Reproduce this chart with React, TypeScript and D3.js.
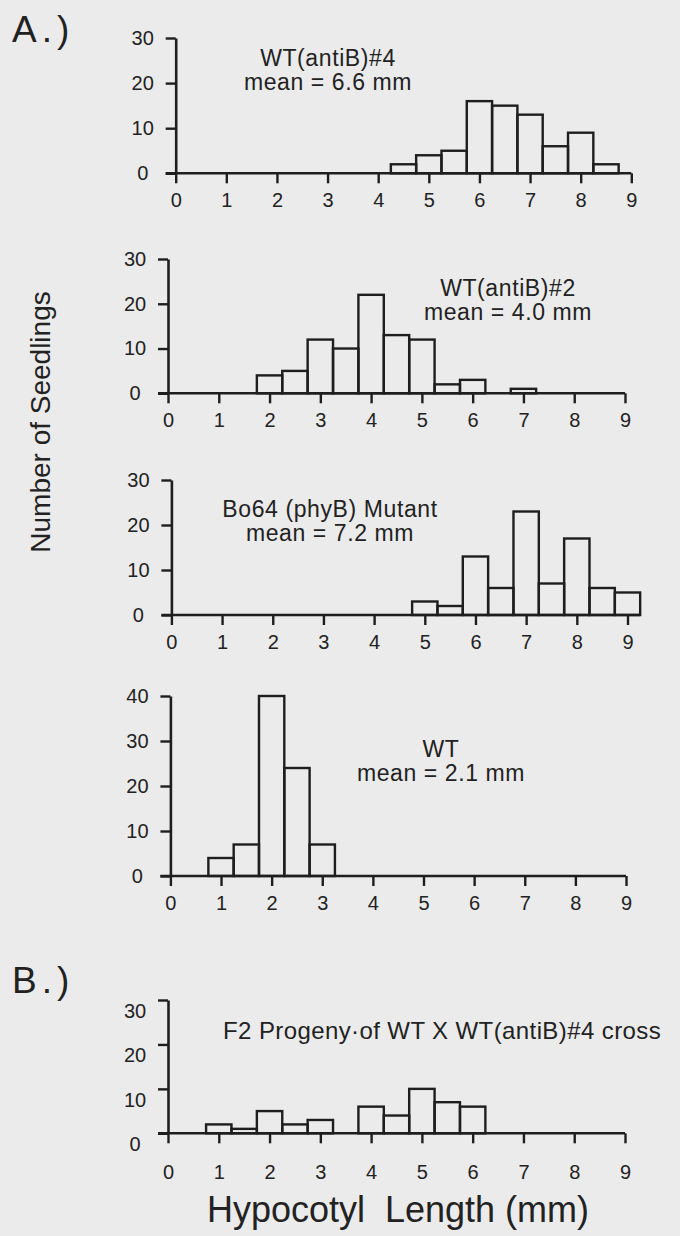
import { useRef, useEffect } from "react";
import { select, scaleLinear, axisBottom, axisLeft } from "d3";

const W = 680;
const H = 1236;
const INK = "#1e1e1e";
const FONT = "'Liberation Sans', Arial, Helvetica, sans-serif";

// bin centres (mm) and counts of seedlings
const wtB4Centers = [4.5, 5, 5.5, 6, 6.5, 7, 7.5, 8, 8.5];
const wtB4Counts = [2, 4, 5, 16, 15, 13, 6, 9, 2];

const wtB2Centers = [2, 2.5, 3, 3.5, 4, 4.5, 5, 5.5, 6, 7];
const wtB2Counts = [4, 5, 12, 10, 22, 13, 12, 2, 3, 1];

const bo64Centers = [5, 5.5, 6, 6.5, 7, 7.5, 8, 8.5, 9];
const bo64Counts = [3, 2, 13, 6, 23, 7, 17, 6, 5];

const wtCenters = [1, 1.5, 2, 2.5, 3];
const wtCounts = [4, 7, 40, 24, 7];

const f2Centers = [1, 1.5, 2, 2.5, 3, 4, 4.5, 5, 5.5, 6];
const f2Counts = [2, 1, 5, 2, 3, 6, 4, 10, 7, 6];

const xTicks = [0, 1, 2, 3, 4, 5, 6, 7, 8, 9];
const yTicks30 = [0, 10, 20, 30];
const yTicks40 = [0, 10, 20, 30, 40];

const titleB4 = ["WT(antiB)#4", "mean = 6.6 mm"];
const titleB2 = ["WT(antiB)#2", "mean = 4.0 mm"];
const titleBo64 = ["Bo64 (phyB) Mutant", "mean = 7.2 mm"];
const titleWT = ["WT", "mean = 2.1 mm"];
const titleF2 = ["F2 Progeny\u00B7of WT X WT(antiB)#4 cross"];

// where each small histogram sits on the page
const panels = [
  { centers: wtB4Centers, counts: wtB4Counts, yTicks: yTicks30, title: titleB4,
    left: 175.7, right: 631.3, base: 173.3, top: 38, xEnd: 9, pad: 10, ydy: 0,
    tx: 328, ty: 66, anchor: "middle", fs: 23, ls: 0.6 },
  { centers: wtB2Centers, counts: wtB2Counts, yTicks: yTicks30, title: titleB2,
    left: 168, right: 625, base: 393.3, top: 259, xEnd: 9, pad: 10, ydy: 0,
    tx: 508, ty: 296, anchor: "middle", fs: 23, ls: 0.6 },
  { centers: bo64Centers, counts: bo64Counts, yTicks: yTicks30, title: titleBo64,
    left: 171.4, right: 627.5, base: 615, top: 480, xEnd: 9.25, pad: 10, ydy: 0,
    tx: 330, ty: 517, anchor: "middle", fs: 23, ls: 0.6 },
  { centers: wtCenters, counts: wtCounts, yTicks: yTicks40, title: titleWT,
    left: 170.4, right: 626, base: 876, top: 696, xEnd: 9, pad: 10, ydy: 0,
    tx: 441, ty: 757, anchor: "middle", fs: 23, ls: 0.6 },
  { centers: f2Centers, counts: f2Counts, yTicks: yTicks30, title: titleF2,
    left: 168, right: 625, base: 1133.3, top: 1000, xEnd: 9, pad: 22, ydy: 11,
    tx: 223, ty: 1039, anchor: "start", fs: 24, ls: 0.4 },
];

function HypocotylFigure() {
  const svgRef = useRef(null);

  useEffect(() => {
    const svg = select(svgRef.current);
    svg.selectAll(".panel").remove();

    panels.forEach((p) => {
      const x = scaleLinear().domain([0, 9]).range([p.left, p.right]);
      const y = scaleLinear().domain([0, p.yTicks[p.yTicks.length - 1]]).range([p.base, p.top]);
      const g = svg.append("g").attr("class", "panel");

      // bars
      g.selectAll(".bar")
        .data(p.centers.map((c, i) => ({ c, n: p.counts[i] })))
        .join("rect")
        .attr("class", "bar")
        .attr("x", (d) => x(d.c - 0.25))
        .attr("width", (d) => x(d.c + 0.25) - x(d.c - 0.25))
        .attr("y", (d) => y(d.n))
        .attr("height", (d) => y(0) - y(d.n))
        .attr("fill", "none")
        .attr("stroke", INK)
        .attr("stroke-width", 2.4);

      // x-axis
      const xa = g.append("g")
        .attr("transform", `translate(0,${p.base})`)
        .call(axisBottom(x).tickValues(xTicks).tickSize(10).tickPadding(p.pad).tickFormat((d) => `${d}`));
      xa.select(".domain").remove();
      xa.append("line")
        .attr("x1", x(0) - 10)
        .attr("x2", x(p.xEnd))
        .attr("stroke", INK)
        .attr("stroke-width", 2.6);

      // y-axis
      const ya = g.append("g")
        .attr("transform", `translate(${x(0)},0)`)
        .call(axisLeft(y).tickValues(p.yTicks).tickSize(10).tickSizeOuter(0));
      ya.select(".domain").attr("stroke", INK).attr("stroke-width", 2.6);
      ya.selectAll("text").attr("x", -33).attr("y", p.ydy).attr("text-anchor", "middle");

      g.selectAll(".tick line").attr("stroke", INK).attr("stroke-width", 2.4);
      g.selectAll(".tick text")
        .attr("fill", "#222")
        .style("font-family", FONT)
        .style("font-size", "20px");

      // label
      g.append("text")
        .attr("x", p.tx)
        .attr("y", p.ty)
        .attr("text-anchor", p.anchor)
        .attr("fill", "#222")
        .style("font-family", FONT)
        .style("font-size", `${p.fs}px`)
        .style("letter-spacing", `${p.ls}px`)
        .selectAll("tspan")
        .data(p.title)
        .join("tspan")
        .attr("x", p.tx)
        .attr("dy", (_, i) => (i === 0 ? 0 : 24))
        .text((d) => d);
    });
  }, []);

  return (
    <svg ref={svgRef} width={W} height={H} style={{ position: "absolute", left: 0, top: 0 }}>
      <rect width={W} height={H} fill="#ebebeb" />
      <text x={12} y={42} fill="#222" style={{ fontFamily: FONT, fontSize: "37px", letterSpacing: "5px" }}>A.)</text>
      <text x={12} y={993} fill="#222" style={{ fontFamily: FONT, fontSize: "37px", letterSpacing: "5px" }}>B.)</text>
      <text
        transform="translate(50,422) rotate(-90)"
        textAnchor="middle"
        fill="#222"
        style={{ fontFamily: FONT, fontSize: "28px" }}
      >
        Number of Seedlings
      </text>
      <text
        x={398}
        y={1222}
        textAnchor="middle"
        fill="#222"
        style={{ fontFamily: FONT, fontSize: "36px", whiteSpace: "pre" }}
      >
        {"Hypocotyl  Length (mm)"}
      </text>
    </svg>
  );
}

export default function App() {
  return <HypocotylFigure />;
}
